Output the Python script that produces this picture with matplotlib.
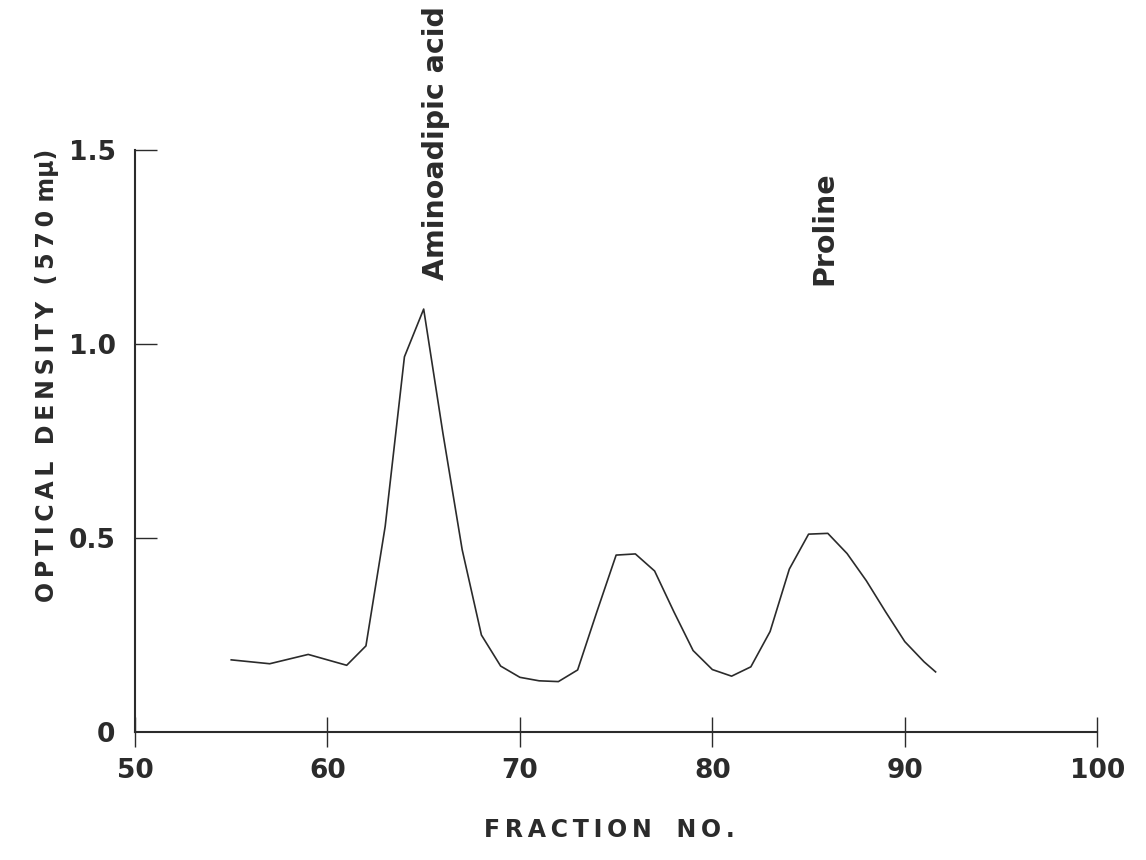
import numpy as np
import matplotlib.pyplot as plt

# fraction number vs optical density
fraction = [55, 57, 59, 61, 62, 63, 64, 65, 66, 67, 68, 69, 70, 71, 72, 73,
            74, 75, 76, 77, 78, 79, 80, 81, 82, 83, 84, 85, 86, 87, 88, 89,
            90, 91, 91.6]
density = [0.186, 0.176, 0.200, 0.172, 0.222, 0.53, 0.967, 1.09, 0.77, 0.47,
           0.25, 0.17, 0.141, 0.132, 0.130, 0.160, 0.31, 0.456, 0.459, 0.415,
           0.31, 0.21, 0.161, 0.144, 0.168, 0.259, 0.42, 0.51, 0.512, 0.46,
           0.39, 0.31, 0.233, 0.181, 0.155]

peak_labels = ["Aminoadipic acid", "Proline"]
peak_pos = [65.65, 85.8]
peak_text_base = [1.165, 1.152]

xticks = [50, 60, 70, 80, 90, 100]
yticks = [0, 0.5, 1.0, 1.5]
ytick_labels = ["0", "0.5", "1.0", "1.5"]

ink = "#2b2b2b"
thin = "\u2009"


def spaced(s):
    # wide letter spacing like the hand-lettered original
    return thin.join(s)


fig = plt.figure(figsize=(11.46, 8.6), dpi=100)
ax = fig.add_axes([0.1178, 0.1488, 0.8447, 0.6768])

ax.plot(fraction, density, color=ink, lw=1.2)

ax.set_xlim(50, 100.3)
ax.set_ylim(0, 1.5)
for s in ["top", "right"]:
    ax.spines[s].set_visible(False)
for s in ["left", "bottom"]:
    ax.spines[s].set_color(ink)
    ax.spines[s].set_linewidth(1.5)
ax.spines["bottom"].set_bounds(50, 100)

ax.set_xticks(xticks)
ax.set_yticks(yticks)
ax.set_yticklabels(ytick_labels)
ax.tick_params(axis="y", direction="in", length=16, width=1.0, color=ink,
               labelsize=19, labelcolor=ink, pad=14)
ax.tick_params(axis="x", direction="inout", length=22, width=1.0, color=ink,
               labelsize=19, labelcolor=ink, pad=8)
ax.get_yticklines()[0].set_visible(False)
for lab in ax.get_xticklabels() + ax.get_yticklabels():
    lab.set_fontweight("bold")

ax.set_xlabel(spaced("FRACTION") + "   " + spaced("NO."), fontsize=17,
              fontweight="bold", color=ink)
ax.xaxis.set_label_coords(0.49, -0.148)
ax.set_ylabel(spaced("OPTICAL") + "  " + spaced("DENSITY") + "  "
              + spaced("(570") + " " + "mμ)", fontsize=17,
              fontweight="bold", color=ink)
ax.yaxis.set_label_coords(-0.078, 0.613)

for lab, xp, yb in zip(peak_labels, peak_pos, peak_text_base):
    ax.text(xp, yb, lab, rotation=90, ha="center", va="bottom", fontsize=20.5,
            fontweight="bold", color=ink, clip_on=False)

fig.savefig("out.png", dpi=100)
